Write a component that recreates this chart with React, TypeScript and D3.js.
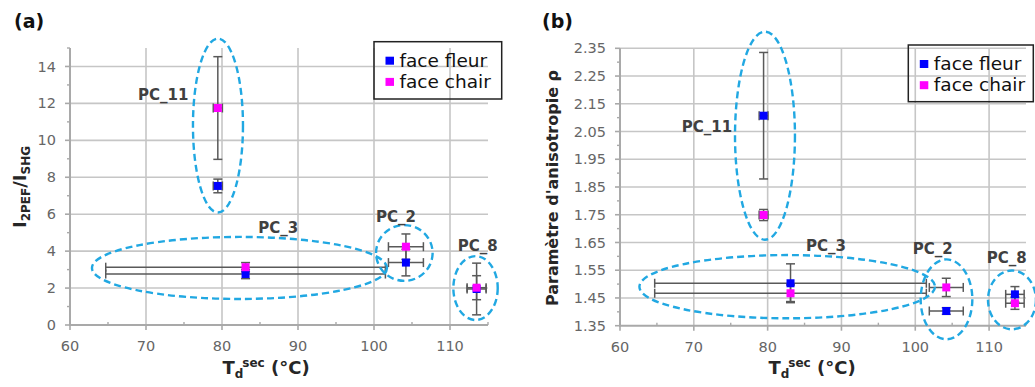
import React from 'react';
import * as d3 from 'd3';

// ---------- data ----------
const samples = ['PC_11', 'PC_3', 'PC_2', 'PC_8'];
const tdSec = [79.45, 83.1, 104.2, 113.5];
const tdSecErr = [0.6, 18.4, 2.3, 1.25];

const ratioFleur = [7.53, 2.76, 3.38, 1.95];
const ratioFleurErr = [0.37, 0.25, 0.72, 1.4];
const ratioChair = [11.75, 3.13, 4.24, 2.02];
const ratioChairErr = [2.78, 0.25, 0.69, 0.65];

const rhoFleur = [2.107, 1.503, 1.403, 1.463];
const rhoFleurErr = [0.228, 0.07, 0.012, 0.028];
const rhoChair = [1.749, 1.467, 1.488, 1.431];
const rhoChairErr = [0.02, 0.03, 0.033, 0.022];

// group outlines (data units): centre x, centre y, radius x, radius y
const ratioGroupCx = [79.47, 82.3, 103.99, 113.36];
const ratioGroupCy = [10.8, 3.09, 3.9, 2.0];
const ratioGroupRx = [3.29, 19.41, 3.72, 2.92];
const ratioGroupRy = [4.71, 1.68, 1.51, 1.73];

const rhoGroupCx = [79.64, 82.65, 104.23, 113.1];
const rhoGroupCy = [2.035, 1.4906, 1.445, 1.443];
const rhoGroupRx = [4.06, 20.02, 3.5, 3.25];
const rhoGroupRy = [0.375, 0.114, 0.144, 0.106];

// group label anchors (data units, start / baseline)
const ratioLabelX = [68.95, 84.78, 100.26, 111.01];
const ratioLabelY = [12.21, 4.99, 5.57, 4.03];
const rhoLabelX = [68.36, 85.2, 99.65, 109.67];
const rhoLabelY = [2.05, 1.621, 1.609, 1.577];

const xTicks = [60, 70, 80, 90, 100, 110];
const xMinorTicks = [65, 75, 85, 95, 105, 115];
const ratioTicks = [0, 2, 4, 6, 8, 10, 12, 14];
const ratioMinorTicks = [1, 3, 5, 7, 9, 11, 13, 15];
const rhoTicks = [1.35, 1.45, 1.55, 1.65, 1.75, 1.85, 1.95, 2.05, 2.15, 2.25, 2.35];
const rhoMinorTicks = [1.4, 1.5, 1.6, 1.7, 1.8, 1.9, 2.0, 2.1, 2.2, 2.3];

const seriesNames = ['face fleur', 'face chair'];
const seriesColors = ['#0000ff', '#ff00ff'];

const FONT = '"DejaVu Sans", sans-serif';
const GRID = '#c6c6c6';
const AXIS = '#a9a9a9';
const ERR = '#595959';
const RING = '#21a8e2';

type PanelProps = {
  box: { left: number; top: number; right: number; bottom: number };
  xDomain: [number, number];
  yDomain: [number, number];
  yTicks: number[];
  yMinor: number[];
  yFmt: (v: number) => string;
  series: { vals: number[]; errs: number[] }[];
  ring: { cx: number[]; cy: number[]; rx: number[]; ry: number[] };
  labels: { x: number[]; y: number[] };
  legend: { x: number; y: number; w: number; h: number };
  panelLabel: string;
  panelLabelPos: [number, number];
  yTitle: React.ReactNode;
  yTitlePos: [number, number];
  xTitleX: number;
};

function Panel(p: PanelProps) {
  const { left, top, right, bottom } = p.box;
  const x = d3.scaleLinear().domain(p.xDomain).range([left, right]);
  const y = d3.scaleLinear().domain(p.yDomain).range([bottom, top]);
  const cap = 4.5;
  const half = 4;

  return (
    <g>
      {/* grid */}
      {p.yTicks.slice(1).map((t) => (
        <line key={'gy' + t} x1={left} x2={right} y1={y(t)} y2={y(t)} stroke={GRID} strokeWidth={1.6} />
      ))}
      {xTicks.slice(1).map((t) => (
        <line key={'gx' + t} x1={x(t)} x2={x(t)} y1={top} y2={bottom} stroke={GRID} strokeWidth={1.6} />
      ))}
      {/* axes */}
      <line x1={left} x2={left} y1={top} y2={bottom + 1} stroke={AXIS} strokeWidth={2} />
      <line x1={left - 1} x2={right} y1={bottom} y2={bottom} stroke={AXIS} strokeWidth={2} />
      {p.yTicks.map((t) => (
        <line key={'ty' + t} x1={left - 5} x2={left} y1={y(t)} y2={y(t)} stroke={AXIS} strokeWidth={1.6} />
      ))}
      {p.yMinor.map((t) => (
        <line key={'tym' + t} x1={left - 3} x2={left} y1={y(t)} y2={y(t)} stroke={AXIS} strokeWidth={1.4} />
      ))}
      {xTicks.map((t) => (
        <line key={'tx' + t} x1={x(t)} x2={x(t)} y1={bottom} y2={bottom + 5} stroke={AXIS} strokeWidth={1.6} />
      ))}
      {xMinorTicks.map((t) => (
        <line key={'txm' + t} x1={x(t)} x2={x(t)} y1={bottom - 3} y2={bottom} stroke={AXIS} strokeWidth={1.4} />
      ))}
      {/* tick labels */}
      {p.yTicks.map((t) => (
        <text key={'ly' + t} x={left - 14} y={y(t)} dy="0.35em" textAnchor="end" fontFamily={FONT} fontSize={14.5} fill="#666">
          {p.yFmt(t)}
        </text>
      ))}
      {xTicks.map((t) => (
        <text key={'lx' + t} x={x(t)} y={bottom + 26} textAnchor="middle" fontFamily={FONT} fontSize={14.5} fill="#666">
          {t}
        </text>
      ))}
      {/* error bars */}
      {p.series.map((s, si) =>
        samples.map((name, i) => {
          const cx = x(tdSec[i]);
          const cy = y(s.vals[i]);
          const y1 = y(s.vals[i] - s.errs[i]);
          const y2 = y(s.vals[i] + s.errs[i]);
          const x1 = x(tdSec[i] - tdSecErr[i]);
          const x2 = x(tdSec[i] + tdSecErr[i]);
          return (
            <g key={'e' + si + name} stroke={ERR} strokeWidth={1.5}>
              <line x1={cx} x2={cx} y1={y1} y2={y2} />
              <line x1={cx - cap} x2={cx + cap} y1={y1} y2={y1} />
              <line x1={cx - cap} x2={cx + cap} y1={y2} y2={y2} />
              <line x1={x1} x2={x2} y1={cy} y2={cy} />
              <line x1={x1} x2={x1} y1={cy - cap} y2={cy + cap} />
              <line x1={x2} x2={x2} y1={cy - cap} y2={cy + cap} />
            </g>
          );
        })
      )}
      {/* markers */}
      {p.series.map((s, si) =>
        samples.map((name, i) => (
          <rect
            key={'m' + si + name}
            x={x(tdSec[i]) - half}
            y={y(s.vals[i]) - half}
            width={half * 2}
            height={half * 2}
            fill={seriesColors[si]}
          />
        ))
      )}
      {/* group outlines */}
      {samples.map((name, i) => (
        <ellipse
          key={'r' + name}
          cx={x(p.ring.cx[i])}
          cy={y(p.ring.cy[i])}
          rx={x(p.ring.cx[i] + p.ring.rx[i]) - x(p.ring.cx[i])}
          ry={y(p.ring.cy[i]) - y(p.ring.cy[i] + p.ring.ry[i])}
          fill="none"
          stroke={RING}
          strokeWidth={2.4}
          strokeDasharray="7 4"
        />
      ))}
      {/* group labels */}
      {samples.map((name, i) => (
        <text key={'t' + name} x={x(p.labels.x[i])} y={y(p.labels.y[i])} fontFamily={FONT} fontWeight="bold" fontSize={15} fill="#404040">
          {name}
        </text>
      ))}
      {/* legend */}
      <rect x={p.legend.x} y={p.legend.y} width={p.legend.w} height={p.legend.h} fill="none" stroke="#222" strokeWidth={1.5} />
      {seriesNames.map((n, k) => (
        <g key={'lg' + n}>
          <rect x={p.legend.x + 11.5} y={p.legend.y + 15 + k * 21.2} width={8.5} height={8} fill={seriesColors[k]} />
          <text x={p.legend.x + 25.5} y={p.legend.y + 25 + k * 21.2} fontFamily={FONT} fontSize={18.5} fill="#111">
            {n}
          </text>
        </g>
      ))}
      {/* panel label */}
      <text x={p.panelLabelPos[0]} y={p.panelLabelPos[1]} fontFamily={FONT} fontWeight="bold" fontSize={19} fill="#111">
        {p.panelLabel}
      </text>
      {/* titles */}
      <text
        transform={`translate(${p.yTitlePos[0]},${p.yTitlePos[1]}) rotate(-90)`}
        textAnchor="middle"
        fontFamily={FONT}
        fontWeight="bold"
        fill="#262626"
      >
        {p.yTitle}
      </text>
      <text x={p.xTitleX} y={373.5} textAnchor="middle" fontFamily={FONT} fontWeight="bold" fill="#262626">
        <tspan fontSize={18}>T</tspan>
        <tspan fontSize={12} dy={4}>d</tspan>
        <tspan fontSize={12} dy={-11} dx={-1}>sec</tspan>
        <tspan fontSize={18} dy={7}> (°C)</tspan>
      </text>
    </g>
  );
}

export default function App() {
  return (
    <svg
      width={1035}
      height={387}
      viewBox="0 0 1035 387"
      style={{ position: 'absolute', left: 0, top: 0, background: '#fff' }}
    >
      <Panel
        box={{ left: 70, top: 48, right: 488, bottom: 325 }}
        xDomain={[60, 115]}
        yDomain={[0, 15]}
        yTicks={ratioTicks}
        yMinor={ratioMinorTicks}
        yFmt={(v) => String(v)}
        series={[
          { vals: ratioFleur, errs: ratioFleurErr },
          { vals: ratioChair, errs: ratioChairErr },
        ]}
        ring={{ cx: ratioGroupCx, cy: ratioGroupCy, rx: ratioGroupRx, ry: ratioGroupRy }}
        labels={{ x: ratioLabelX, y: ratioLabelY }}
        legend={{ x: 374, y: 41.7, w: 127.7, h: 57.3 }}
        panelLabel="(a)"
        panelLabelPos={[14, 28]}
        yTitle={
          <>
            <tspan fontSize={18}>I</tspan>
            <tspan fontSize={12} dy={4}>2PEF</tspan>
            <tspan fontSize={18} dy={-4}>/I</tspan>
            <tspan fontSize={12} dy={4}>SHG</tspan>
          </>
        }
        yTitlePos={[26, 187]}
        xTitleX={266}
      />
      <Panel
        box={{ left: 620, top: 48.3, right: 1026, bottom: 325.7 }}
        xDomain={[60, 115]}
        yDomain={[1.35, 2.35]}
        yTicks={rhoTicks}
        yMinor={rhoMinorTicks}
        yFmt={d3.format('.2f')}
        series={[
          { vals: rhoFleur, errs: rhoFleurErr },
          { vals: rhoChair, errs: rhoChairErr },
        ]}
        ring={{ cx: rhoGroupCx, cy: rhoGroupCy, rx: rhoGroupRx, ry: rhoGroupRy }}
        labels={{ x: rhoLabelX, y: rhoLabelY }}
        legend={{ x: 908.3, y: 45, w: 125, h: 56.7 }}
        panelLabel="(b)"
        panelLabelPos={[542, 28]}
        yTitle={<tspan fontSize={16}>Paramètre d'anisotropie ρ</tspan>}
        yTitlePos={[558, 188]}
        xTitleX={812}
      />
    </svg>
  );
}
